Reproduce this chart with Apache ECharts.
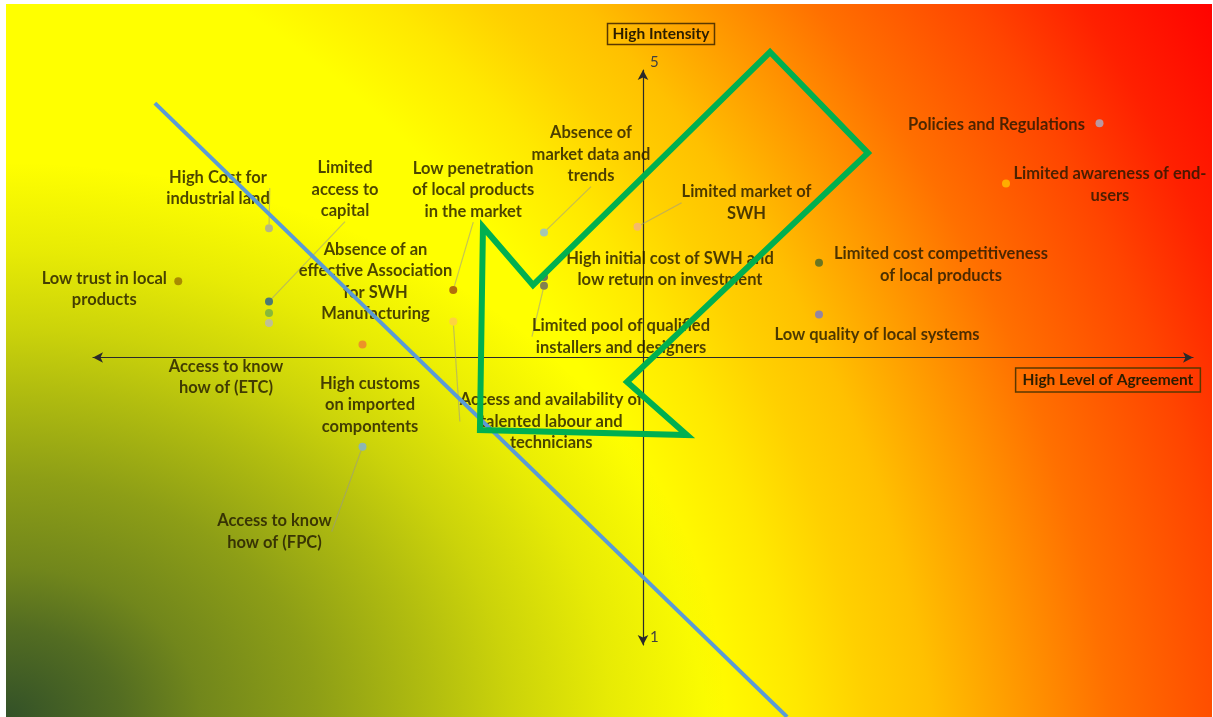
<!DOCTYPE html>
<html>
<head>
    <meta charset="utf-8">
    <title>SWH barriers - agreement vs intensity</title>
    <script src="https://cdn.jsdelivr.net/npm/echarts@6/dist/echarts.min.js"></script>
    <style>html, body { margin: 0; padding: 0; background: #fff; }</style>
</head>
<body>
<div id="chart" style="width: 1213px; height: 717px;"></div>
<script>
    var chart = echarts.init(document.getElementById('chart'));

    // barriers (label text as it wraps in the picture)
    var barriers = [
        'Policies and Regulations',
        'Limited awareness of end-\nusers',
        'Limited cost competitiveness\nof local products',
        'Low quality of local systems',
        'Limited market of\nSWH',
        'Absence of\nmarket data and\ntrends',
        'High initial cost of SWH and\nlow return on investment',
        'Limited pool of qualified\ninstallers and designers',
        'Low penetration\nof local products\nin the market',
        'Absence of an\neffective Association\nfor SWH\nManufacturing',
        'Access and availability of\ntalented labour and\ntechnicians',
        'High customs\non imported\ncompontents',
        'Access to know\nhow of (FPC)',
        'Access to know\nhow of (ETC)',
        'Low trust in local\nproducts',
        'High Cost for\nindustrial land',
        'Limited\naccess to\ncapital'
    ];
    // level of agreement (x) and intensity (y), scale 1..5
    var agreement = [4.66, 4.32, 3.64, 3.64, 2.98, 2.64, 2.64, 2.64, 2.31, 1.98, 2.31, 1.64, 1.98, 1.64, 1.31, 1.64, 1.64];
    var intensity = [4.63, 4.21, 3.66, 3.30, 3.91, 3.87, 3.56, 3.50, 3.47, 3.09, 3.25, 3.24, 2.38, 3.31, 3.53, 3.90, 3.39];
    var yTickValues = [1, 5];

    // styling / layout, kept apart from the data
    var pointColors = ['#aab0c8', '#ffc000', '#43682b', '#7a78c8', '#f4b183', '#8fbbe0', '#44546a', '#636363',
        '#9e480e', '#ed7d31', '#ffc94d', '#b7b7b7', '#7cafdd', '#70ad47', '#997300', '#a5a5a5', '#255e91'];
    var labelOffsets = [[-103, 1], [104, 1], [122, 2], [58, 20], [109, -24], [47, -78], [126, -8], [77, 51],
        [20, -100], [13, -63], [98, 100], [101, 82], [-88, 85], [-43, 64], [-74, 8], [-51, -40], [76, -112]];
    var hasLeader = [0, 0, 0, 0, 1, 1, 0, 1, 1, 0, 1, 0, 1, 0, 0, 1, 1];

    // hand-drawn overlays, in chart units
    var blueLine = [[1.225, 4.77], [3.524, 0.50]];
    var greenArrow = [[3.462, 5.125], [3.818, 4.423], [2.942, 2.830], [3.160, 2.461],
        [2.407, 2.496], [2.418, 3.908], [2.600, 3.504]];

    var grid = { left: 93, right: 20, top: 70, bottom: 72 };
    var plotW = 1213 - grid.left - grid.right;
    var plotH = 717 - grid.top - grid.bottom;

    var points = barriers.map(function (name, i) {
        return {
            name: name,
            value: [agreement[i], intensity[i]],
            itemStyle: { color: pointColors[i] },
            label: { offset: labelOffsets[i] },
            labelLine: { show: !!hasLeader[i] }
        };
    });

    // background: yellow -> red sweep from far bottom-left, plus a dark green glow in the corner
    var warmFill = {
        type: 'radial', x: -338, y: 900, r: 1800, global: true,
        colorStops: [
            { offset: 0, color: '#ffff00' },
            { offset: 0.59, color: '#ffff00' },
            { offset: 0.64, color: '#ffe800' },
            { offset: 0.678, color: '#ffd000' },
            { offset: 0.713, color: '#ffc000' },
            { offset: 0.756, color: '#ff9d00' },
            { offset: 0.811, color: '#ff7000' },
            { offset: 0.883, color: '#ff4500' },
            { offset: 0.933, color: '#ff2000' },
            { offset: 1, color: '#ff0000' }
        ]
    };
    var greenFill = {
        type: 'radial', x: 0, y: 712, r: 554, global: true,
        colorStops: [
            { offset: 0, color: 'rgba(40,72,42,0.95)' },
            { offset: 0.16, color: 'rgba(40,72,42,0.80)' },
            { offset: 0.27, color: 'rgba(40,72,42,0.66)' },
            { offset: 0.43, color: 'rgba(40,72,42,0.53)' },
            { offset: 0.59, color: 'rgba(40,72,42,0.36)' },
            { offset: 0.70, color: 'rgba(40,72,42,0.24)' },
            { offset: 0.84, color: 'rgba(40,72,42,0.11)' },
            { offset: 1, color: 'rgba(40,72,42,0)' }
        ]
    };

    var option = {
        animation: false,
        grid: grid,
        xAxis: {
            type: 'value', min: 1, max: 5, interval: 1,
            position: 'bottom', offset: -plotH / 2,
            axisLine: { show: true, symbol: ['arrow', 'arrow'], symbolSize: [8, 10], lineStyle: { color: '#2a2a2a', width: 1.2 } },
            axisTick: { show: false }, axisLabel: { show: false }, splitLine: { show: false }
        },
        yAxis: {
            type: 'value', min: 1, max: 5, interval: 1,
            position: 'left', offset: -plotW / 2,
            axisLine: { show: true, symbol: ['arrow', 'arrow'], symbolSize: [8, 10], lineStyle: { color: '#2a2a2a', width: 1.2 } },
            axisTick: { show: false }, splitLine: { show: false },
            axisLabel: {
                inside: true, margin: 7, color: '#404040', fontSize: 15, fontFamily: 'Lato',
                verticalAlign: 'bottom',
                formatter: function (v) { return yTickValues.indexOf(v) >= 0 ? String(v) : ''; }
            }
        },
        series: [{
            type: 'scatter',
            symbol: 'circle',
            symbolSize: 8,
            data: points,
            label: {
                show: true, position: 'inside',
                formatter: '{b}',
                fontFamily: 'Lato', fontWeight: 'bold', fontSize: 16.5, lineHeight: 21.5,
                color: '#1f1600', align: 'center'
            },
            labelLine: { show: false, lineStyle: { color: 'rgba(150,150,150,0.55)', width: 1.2 } },
            emphasis: { disabled: true }
        }],
        graphic: [{
            id: 'bgWarm', type: 'rect', z: -20, silent: true,
            shape: { x: 6, y: 4, width: 1206, height: 713 },
            style: { fill: warmFill }
        }, {
            // stretched sideways so the green glow is an ellipse
            id: 'bgGreen', type: 'rect', z: -19, silent: true,
            x: 6, y: 4, scaleX: 1.3, scaleY: 1,
            shape: { x: 0, y: 0, width: 1206 / 1.3, height: 713 },
            style: { fill: greenFill }
        }]
    };
    chart.setOption(option);

    // overlays go through the axes' scale
    function toPx(p) { return chart.convertToPixel({ gridIndex: 0 }, p); }

    var boxText = { fontFamily: 'Lato', fontWeight: 'bold', fontSize: 15.5, fill: '#2b1d00',
        align: 'center', verticalAlign: 'middle', borderColor: '#5a3800', borderWidth: 1.5 };

    chart.setOption({
        graphic: [{
            id: 'blueLine', type: 'polyline', z: 100, silent: true,
            shape: { points: blueLine.map(toPx) },
            style: { stroke: '#5b9bd5', lineWidth: 4, fill: null }
        }, {
            id: 'greenArrow', type: 'polygon', z: 100, silent: true,
            shape: { points: greenArrow.map(toPx) },
            style: { stroke: '#00b050', lineWidth: 6, fill: null, lineJoin: 'miter' }
        }, {
            id: 'titleY', type: 'text', z: 90, silent: true, x: 661, y: 34,
            style: Object.assign({ text: 'High Intensity', padding: [3, 5, 2, 5] }, boxText)
        }, {
            id: 'titleX', type: 'text', z: 90, silent: true, x: 1108, y: 380,
            style: Object.assign({ text: 'High Level of Agreement', padding: [4, 7, 4, 7] }, boxText)
        }]
    });
</script>
</body>
</html>
